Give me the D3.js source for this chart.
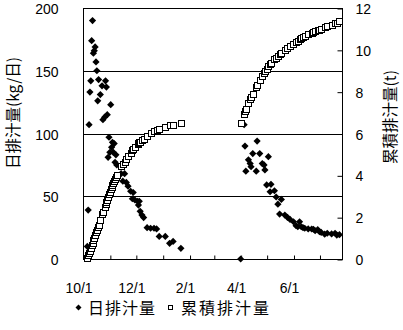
<!DOCTYPE html>
<html><head><meta charset="utf-8">
<script src="https://cdn.jsdelivr.net/npm/d3@7/dist/d3.min.js"></script>
<style>body{margin:0;background:#fff}svg{display:block}text{fill:#000}</style>
</head><body><svg id="c" width="403" height="330"></svg>
<script>
// ---- data ----
const dates = [
 "2004-10-06","2004-10-07","2004-10-08","2004-10-09","2004-10-10","2004-10-11","2004-10-12","2004-10-13","2004-10-14","2004-10-15",
 "2004-10-16","2004-10-17","2004-10-18","2004-10-19","2004-10-21","2004-10-23","2004-10-24","2004-10-26","2004-10-27","2004-10-28",
 "2004-10-29","2004-10-30","2004-10-31","2004-11-01","2004-11-02","2004-11-03","2004-11-04","2004-11-05","2004-11-06","2004-11-07",
 "2004-11-08","2004-11-09","2004-11-14","2004-11-16","2004-11-18","2004-11-20","2004-11-22","2004-11-25","2004-11-27","2004-11-28",
 "2004-11-30","2004-12-03","2004-12-04","2004-12-05","2004-12-06","2004-12-08","2004-12-10","2004-12-14","2004-12-18","2004-12-22",
 "2004-12-25","2004-12-28","2005-01-04","2005-01-09","2005-01-13","2005-01-22",
 "2005-04-01","2005-04-05","2005-04-06","2005-04-07","2005-04-10","2005-04-12","2005-04-13","2005-04-15","2005-04-19","2005-04-20",
 "2005-04-23","2005-04-26","2005-04-28","2005-04-29","2005-05-01","2005-05-03","2005-05-05","2005-05-06","2005-05-10","2005-05-12",
 "2005-05-14","2005-05-16","2005-05-18","2005-05-22","2005-05-25","2005-05-28","2005-06-01","2005-06-04","2005-06-06","2005-06-08",
 "2005-06-10","2005-06-12","2005-06-14","2005-06-18","2005-06-22","2005-06-24","2005-06-26","2005-06-29","2005-07-01","2005-07-03",
 "2005-07-07","2005-07-10","2005-07-15","2005-07-19","2005-07-21","2005-07-24"
];
const dailyKg = [
 10,39,107,133,142,174,190,164,166,169,
 157,150,126,143,131,138,111,113,142,137,
 115,81,97,85,123,89,93,85,92,77,
 83,75,68,62,68,61,58,54,48,53,
 47,46,43,46,38,35,33,25,24.5,24.5,
 24,18,18,12.5,14,8.5,
 0,107,90,70,79,76,73.5,84,70,94,
 84,76,75,71,59,81.5,53.6,59.5,54.4,49.4,
 43.7,35.8,47.5,35,33.2,31.5,29.7,26.5,25.7,29.7,
 25.7,25,24.5,24,23.9,23.7,22.5,23.4,21.8,21.2,
 19.8,20.5,20,20.5,19.1,19.4
];
const cumulativeT = [
 0.04,0.18,0.3,0.4,0.53,0.65,0.77,0.9,1.01,1.14,
 1.27,1.39,1.52,1.64,1.87,2.13,2.25,2.5,2.62,2.72,
 2.82,2.96,3.09,3.2,3.33,3.45,3.55,3.65,3.73,3.84,
 3.93,4.01,4.45,4.55,4.65,4.79,4.91,5.09,5.21,5.26,
 5.36,5.49,5.53,5.57,5.6,5.68,5.76,5.9,6.04,6.14,
 6.18,6.22,6.33,6.4,6.43,6.52,
 6.52,6.95,7.06,7.16,7.44,7.65,7.74,7.9,8.2,8.33,
 8.56,8.77,8.9,8.98,9.1,9.24,9.32,9.38,9.55,9.62,
 9.71,9.78,9.86,9.99,10.09,10.18,10.29,10.38,10.44,10.5,
 10.55,10.59,10.64,10.74,10.8,10.84,10.88,10.94,10.97,11.01,
 11.08,11.14,11.21,11.27,11.3,11.36
];
const xDomain = ["2004-10-01","2005-07-27"];
const xTickLabels = ["10/1","12/1","2/1","4/1","6/1"];
const leftTicks = [0,50,100,150,200];
const rightTicks = [0,2,4,6,8,10,12];
const leftTitle = "日排汁量(kg/日)";
const rightTitle = "累積排汁量(t)";
const legendLabels = ["日排汁量","累積排汁量"];

// ---- drawing ----
const parse = d3.timeParse("%Y-%m-%d");
const fmt = d3.timeFormat("%-m/%-d");
const svg = d3.select("#c");
const FONT = "'Noto Sans CJK JP','Liberation Sans',sans-serif";
const NUM = "'Liberation Sans',Arial,sans-serif";
const L = 83, R = 342, T = 8, B = 259;

const x = d3.scaleTime().domain(xDomain.map(parse)).range([L, R]);
const yL = d3.scaleLinear().domain([0,200]).range([B, T]);
const yR = d3.scaleLinear().domain([0,12]).range([B, T]);

const pts = dates.map((d,i)=>({date: parse(d), v: dailyKg[i], c: cumulativeT[i]}));

// gridlines
svg.append("g").selectAll("line").data(leftTicks.filter(t=>t>0 && t<200)).join("line")
  .attr("x1", L).attr("x2", R)
  .attr("y1", d=>Math.round(yL(d))+0.5).attr("y2", d=>Math.round(yL(d))+0.5)
  .attr("stroke","#000").attr("stroke-width",1);

// bottom axis (ticks inside, every month; labels every two months)
const monthTicks = d3.timeMonth.range(parse(xDomain[0]), x.domain()[1]);
const xAxis = d3.axisBottom(x).tickValues(monthTicks).tickSize(-4)
  .tickFormat(d => xTickLabels.includes(fmt(d)) ? fmt(d) : "");
const gx = svg.append("g").attr("transform", `translate(0.5,${B+0.5})`).call(xAxis);
gx.select(".domain").remove();
gx.selectAll(".tick line").attr("stroke","#000");
gx.selectAll(".tick text").filter(function(){ return this.textContent === ""; }).remove();
gx.selectAll(".tick text").attr("font-family",NUM).attr("font-size",14)
  .attr("dy",0).attr("y",33).attr("dx",-5);

// left axis labels
const yAxisL = d3.axisLeft(yL).tickValues(leftTicks).tickSize(0).tickPadding(25);
const gl = svg.append("g").attr("transform",`translate(${L+0.5},0.5)`).call(yAxisL);
gl.select(".domain").remove();
gl.selectAll(".tick text").attr("font-family",NUM).attr("font-size",14).attr("dy","0.36em");

// right axis (ticks inside)
const yAxisR = d3.axisRight(yR).tickValues(rightTicks).tickSize(-5).tickPadding(13);
const gr = svg.append("g").attr("transform",`translate(${R+0.5},0.5)`).call(yAxisR);
gr.select(".domain").remove();
gr.selectAll(".tick line").attr("stroke","#000");
gr.selectAll(".tick text").attr("font-family",NUM).attr("font-size",14).attr("dy","0.36em");

// plot box
svg.append("rect").attr("x",L+0.5).attr("y",T+0.5).attr("width",R-L).attr("height",B-T)
  .attr("fill","none").attr("stroke","#000").attr("stroke-width",1);

// daily diamonds
const diamond = "M0,-3.6L3.6,0L0,3.6L-3.6,0Z";
svg.append("g").selectAll("path").data(pts).join("path")
  .attr("d", diamond)
  .attr("transform", d=>`translate(${x(d.date)},${yL(d.v)})`)
  .attr("fill","#000");

// cumulative squares
svg.append("g").selectAll("rect").data(pts).join("rect")
  .attr("x", d=>Math.round(x(d.date))-3+0.5).attr("y", d=>Math.round(yR(d.c))-3+0.5)
  .attr("width",6).attr("height",6)
  .attr("fill","#fff").attr("stroke","#000").attr("stroke-width",1);

// axis titles
svg.append("text").attr("transform","translate(19,113) rotate(-90)")
  .attr("text-anchor","middle").attr("font-family",FONT).attr("font-size",15.5).text(leftTitle);
svg.append("text").attr("transform","translate(396,117) rotate(-90)")
  .attr("text-anchor","middle").attr("font-family",FONT).attr("font-size",15.5).text(rightTitle);

// legend
const lg = svg.append("g");
lg.append("path").attr("d","M0,-3L3,0L0,3L-3,0Z").attr("transform","translate(78.5,307.5)").attr("fill","#000");
lg.append("text").attr("x",88).attr("y",314).attr("font-family",FONT).attr("font-size",16).attr("letter-spacing",1).text(legendLabels[0]);
lg.append("rect").attr("x",168.5).attr("y",305.5).attr("width",4).attr("height",4).attr("fill","#fff").attr("stroke","#000");
lg.append("text").attr("x",181).attr("y",314).attr("font-family",FONT).attr("font-size",16).attr("letter-spacing",2).text(legendLabels[1]);
</script></body></html>
